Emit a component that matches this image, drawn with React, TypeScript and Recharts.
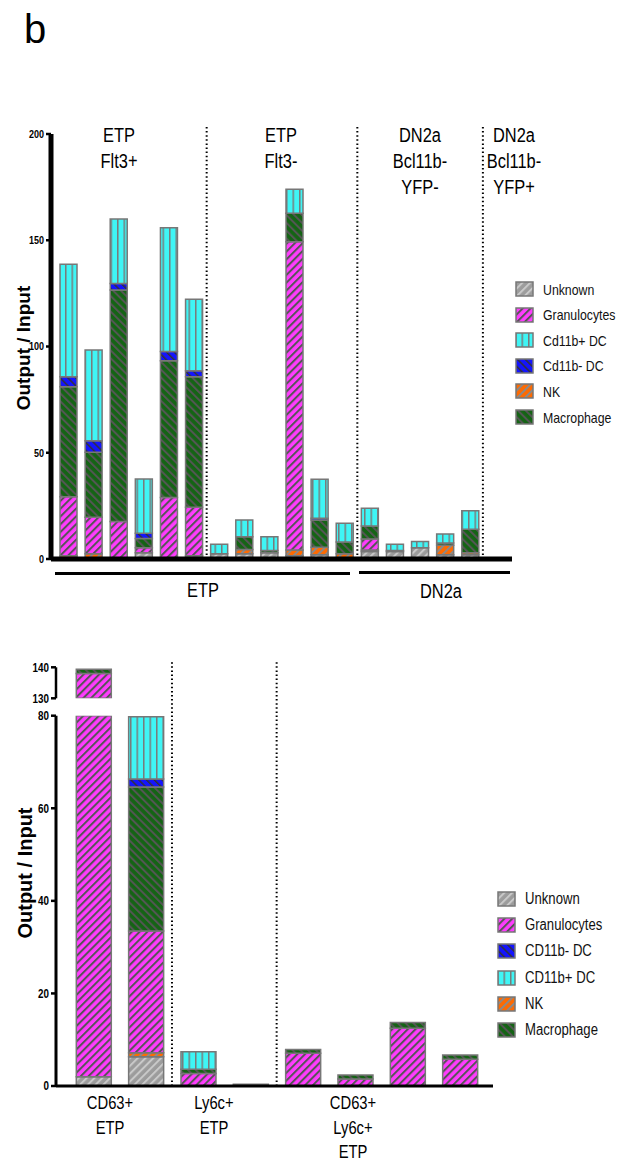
import React from 'react';
import { BarChart, Bar, XAxis, YAxis, ReferenceLine } from 'recharts';

const SANS = "'Liberation Sans', Arial, sans-serif";
const NARROW_SCALE = 0.82;

// ---- top panel: 18 samples (last group DN2a Bcl11b- YFP+ is empty)
const topSamples = [
  'Flt3+ 1', 'Flt3+ 2', 'Flt3+ 3', 'Flt3+ 4', 'Flt3+ 5', 'Flt3+ 6',
  'Flt3- 1', 'Flt3- 2', 'Flt3- 3', 'Flt3- 4', 'Flt3- 5', 'Flt3- 6',
  'YFP- 1', 'YFP- 2', 'YFP- 3', 'YFP- 4', 'YFP- 5', 'YFP+ 1',
];
const topUnknown = [0, 0, 0, 3, 0, 1.5, 2.5, 2.5, 3, 1.5, 2, 0.5, 3.5, 3.5, 5.3, 2, 2, 0];
const topNK = [1.5, 2.5, 0, 0, 0, 0, 0, 2, 0, 2.7, 3.5, 2, 0.7, 0.5, 0, 4.5, 1, 0];
const topGran = [27.8, 17.1, 17.6, 2.3, 28.9, 22.8, 0, 0, 0, 145.1, 0, 0, 5.2, 0, 0, 0, 0, 0];
const topMac = [51.8, 30.6, 109, 4.4, 64.4, 61.5, 0, 6, 1, 13.4, 12.9, 5.5, 6.1, 0, 0, 1, 11, 0];
const topCd11bMinus = [4.7, 5.5, 3.1, 2.4, 4.3, 2.8, 0, 0, 0, 0, 0.8, 0, 0, 0, 0, 0, 0, 0];
const topCd11bPlus = [52.9, 42.7, 30.3, 25.5, 58.3, 33.6, 4.4, 7.9, 6.5, 11.3, 18.3, 8.8, 8.4, 3, 2.9, 4.3, 8.7, 0];
const topTicks = [0, 50, 100, 150, 200];
// first sample of each new group (dotted separator drawn at its band start)
const topGroupStarts = ['Flt3- 1', 'YFP- 1', 'YFP+ 1'];
const topGroupLabels = [['ETP', 'Flt3+'], ['ETP', 'Flt3-'], ['DN2a', 'Bcl11b-', 'YFP-'], ['DN2a', 'Bcl11b-', 'YFP+']];

// ---- bottom panel (broken axis 0-80 / 130-140)
const bottomSamples = ['CD63+ 1', 'CD63+ 2', 'Ly6c+ 1', 'Ly6c+ 2', 'DP 1', 'DP 2', 'DP 3', 'DP 4'];
const botUnknown = [2, 6.3, 0, 0.4, 0, 0, 0, 0];
const botNK = [0, 0.9, 0, 0, 0, 0, 0, 0];
const botGran = [136, 26.3, 2.7, 0, 7.1, 1.5, 12.5, 5.8];
const botMac = [1.4, 31.1, 0.9, 0, 0.8, 0.9, 1.2, 0.9];
const botCd11bMinus = [0, 1.7, 0, 0, 0, 0, 0, 0];
const botCd11bPlus = [0, 13.5, 3.8, 0, 0, 0, 0, 0];
const lowerTicks = [0, 20, 40, 60, 80];
const upperTicks = [130, 140];
const bottomGroupStarts = ['Ly6c+ 1', 'DP 1'];
const bottomGroupLabels = [['CD63+', 'ETP'], ['Ly6c+', 'ETP'], ['CD63+', 'Ly6c+', 'ETP']];

const stackOrder = ['unknown', 'nk', 'gran', 'mac', 'cd11bMinus', 'cd11bPlus'];
const topLegend = [
  ['unknown', 'Unknown'], ['gran', 'Granulocytes'], ['cd11bPlus', 'Cd11b+ DC'],
  ['cd11bMinus', 'Cd11b- DC'], ['nk', 'NK'], ['mac', 'Macrophage'],
];
const bottomLegend = [
  ['unknown', 'Unknown'], ['gran', 'Granulocytes'], ['cd11bMinus', 'CD11b- DC'],
  ['cd11bPlus', 'CD11b+ DC'], ['nk', 'NK'], ['mac', 'Macrophage'],
];

const topData = topSamples.map((name, i) => ({
  name, unknown: topUnknown[i], nk: topNK[i], gran: topGran[i], mac: topMac[i],
  cd11bMinus: topCd11bMinus[i], cd11bPlus: topCd11bPlus[i],
}));
const bottomData = bottomSamples.map((name, i) => ({
  name, unknown: botUnknown[i], nk: botNK[i], gran: botGran[i], mac: botMac[i],
  cd11bMinus: botCd11bMinus[i], cd11bPlus: botCd11bPlus[i],
}));

function Hatch({ id, bg, line, angle, w = 5.5, lw = 2 }) {
  return (
    <pattern id={id} patternUnits="userSpaceOnUse" width={w} height={w} patternTransform={`rotate(${angle})`}>
      <rect width={w} height={w} fill={bg} />
      <line x1={0} y1={0} x2={0} y2={w} stroke={line} strokeWidth={lw * 2} />
    </pattern>
  );
}

function Patterns() {
  return (
    <svg width={0} height={0} style={{ position: 'absolute' }}>
      <defs>
        <Hatch id="pat-unknown" bg="#9c9c9c" line="#c9c9c9" angle={45} />
        <Hatch id="pat-gran" bg="#ff3cff" line="#555555" angle={45} />
        <Hatch id="pat-nk" bg="#ff6a00" line="#8a8a8a" angle={45} />
        <Hatch id="pat-mac" bg="#146414" line="#555555" angle={-45} />
        <Hatch id="pat-cd11bMinus" bg="#1414ff" line="#333333" angle={-45} lw={1.5} />
        <pattern id="pat-cd11bPlus" patternUnits="userSpaceOnUse" width={6.5} height={6.5}>
          <rect width={6.5} height={6.5} fill="#3ff5f5" />
          <line x1={0.75} y1={0} x2={0.75} y2={6.5} stroke="#7a7a7a" strokeWidth={1.5} />
        </pattern>
      </defs>
    </svg>
  );
}

function Stack({ barSize }) {
  return stackOrder.map((k) => (
    <Bar key={k} dataKey={k} stackId="s" barSize={barSize} fill={`url(#pat-${k})`}
      stroke="#777" strokeWidth={1.5} isAnimationActive={false} />
  ));
}

function NarrowTick({ x, y, payload, size }) {
  return (
    <text transform={`translate(${x},${y}) scale(${NARROW_SCALE},1)`} textAnchor="end" dy="0.36em"
      fontSize={size} fontWeight="bold" fontFamily={SANS} fill="#000">{payload.value}</text>
  );
}

function Lines({ lines, cx, top, size, lh }) {
  return (
    <div style={{ position: 'absolute', left: cx - 100, width: 200, top, textAlign: 'center',
      fontFamily: SANS, fontSize: size, lineHeight: `${lh}px`, color: '#000',
      transform: `scaleX(${NARROW_SCALE})`, transformOrigin: '100px 0' }}>
      {lines.map((l, i) => <div key={i}>{l}</div>)}
    </div>
  );
}

function Legend({ items, left, top, step, size }) {
  return (
    <div style={{ position: 'absolute', left, top }}>
      {items.map(([k, label], i) => (
        <div key={k} style={{ position: 'absolute', top: i * step, left: 0, display: 'flex',
          alignItems: 'center', whiteSpace: 'nowrap', height: 18 }}>
          <svg width={19} height={16} style={{ display: 'block' }}>
            <rect x={1} y={1} width={17} height={14} fill={`url(#pat-${k})`} stroke="#777" strokeWidth={1.5} />
          </svg>
          <span style={{ marginLeft: 9, fontFamily: SANS, fontSize: size, color: '#111', display: 'inline-block',
            transform: `scaleX(${NARROW_SCALE})`, transformOrigin: '0 50%' }}>{label}</span>
        </div>
      ))}
    </div>
  );
}

function YLabel({ cx, cy, size }) {
  return (
    <div style={{ position: 'absolute', left: cx - 100, top: cy - 12, width: 200, height: 24,
      lineHeight: '24px', textAlign: 'center', transform: 'rotate(-90deg)', fontFamily: SANS,
      fontWeight: 'bold', fontSize: size, color: '#000' }}>Output / Input</div>
  );
}

const dotted = { stroke: '#000', strokeWidth: 2, strokeDasharray: '1.5 2.6' };

export default function App() {
  return (
    <div style={{ position: 'absolute', left: 0, top: 0, width: 617, height: 1162, background: '#fff', overflow: 'hidden' }}>
      <Patterns />
      <div style={{ position: 'absolute', left: 24, top: 9, fontFamily: SANS, fontSize: 40, lineHeight: 1 }}>b</div>

      {/* top panel */}
      <div style={{ position: 'absolute', left: 0, top: 0 }}>
        <BarChart width={617} height={600} data={topData} margin={{ top: 134, right: 105, left: 11, bottom: 11 }}>
          <XAxis dataKey="name" tick={false} tickLine={false} height={30} padding={{ left: 5, right: 4 }}
            axisLine={{ stroke: '#000', strokeWidth: 5 }} />
          <YAxis domain={[0, 200]} ticks={topTicks} width={40} tick={(p) => <NarrowTick {...p} size={11} />}
            tickSize={5} tickMargin={2} axisLine={{ stroke: '#000', strokeWidth: 5 }}
            tickLine={{ stroke: '#000', strokeWidth: 2.5 }} interval={0} />
          {topGroupStarts.map((s) => (
            <ReferenceLine key={s} position="start" segment={[{ x: s, y: 0 }, { x: s, y: 204 }]}
              ifOverflow="visible" {...dotted} />
          ))}
          {Stack({ barSize: 17 })}
        </BarChart>
      </div>
      <YLabel cx={24} cy={348} size={19} />
      <Lines lines={topGroupLabels[0]} cx={119} top={122} size={20} lh={26} />
      <Lines lines={topGroupLabels[1]} cx={281} top={122} size={20} lh={26} />
      <Lines lines={topGroupLabels[2]} cx={420} top={122} size={20} lh={26} />
      <Lines lines={topGroupLabels[3]} cx={514} top={122} size={20} lh={26} />
      <Legend items={topLegend} left={515} top={280} step={25.6} size={15} />
      <div style={{ position: 'absolute', left: 55, top: 572, width: 295, height: 2.5, background: '#000' }} />
      <div style={{ position: 'absolute', left: 359, top: 571, width: 151, height: 2.5, background: '#000' }} />
      <Lines lines={['ETP']} cx={203} top={578} size={20} lh={24} />
      <Lines lines={['DN2a']} cx={441} top={579} size={20} lh={24} />

      {/* bottom panel, upper segment 130-140 */}
      <div style={{ position: 'absolute', left: 0, top: 640 }}>
        <BarChart width={617} height={70} data={bottomData} margin={{ top: 27.3, right: 124, left: 16, bottom: 11.7 }}>
          <XAxis dataKey="name" hide padding={{ left: 11.3, right: 7 }} />
          <YAxis domain={[130, 140]} ticks={upperTicks} allowDataOverflow width={40}
            tick={(p) => <NarrowTick {...p} size={12} />} tickSize={5} tickMargin={2}
            axisLine={{ stroke: '#000', strokeWidth: 2.5 }} tickLine={{ stroke: '#000', strokeWidth: 2.5 }} interval={0} />
          {Stack({ barSize: 35 })}
        </BarChart>
      </div>
      {/* bottom panel, lower segment 0-80 */}
      <div style={{ position: 'absolute', left: 0, top: 650 }}>
        <BarChart width={617} height={460} data={bottomData} margin={{ top: 65.7, right: 124, left: 16, bottom: 14 }}>
          <XAxis dataKey="name" tick={false} tickLine={false} height={10} padding={{ left: 11.3, right: 7 }}
            axisLine={{ stroke: '#000', strokeWidth: 3 }} />
          <YAxis domain={[0, 80]} ticks={lowerTicks} allowDataOverflow width={40}
            tick={(p) => <NarrowTick {...p} size={12} />} tickSize={5} tickMargin={2}
            axisLine={{ stroke: '#000', strokeWidth: 3 }} tickLine={{ stroke: '#000', strokeWidth: 2.5 }} interval={0} />
          {bottomGroupStarts.map((s) => (
            <ReferenceLine key={s} position="start" segment={[{ x: s, y: 0 }, { x: s, y: 91.6 }]}
              ifOverflow="visible" {...dotted} />
          ))}
          {Stack({ barSize: 35 })}
        </BarChart>
      </div>
      <YLabel cx={25} cy={873} size={20} />
      <Legend items={bottomLegend} left={497} top={890} step={26.2} size={16} />
      <Lines lines={bottomGroupLabels[0]} cx={110} top={1091} size={18} lh={24.5} />
      <Lines lines={bottomGroupLabels[1]} cx={214} top={1091} size={18} lh={24.5} />
      <Lines lines={bottomGroupLabels[2]} cx={353} top={1091} size={18} lh={24.5} />
    </div>
  );
}
